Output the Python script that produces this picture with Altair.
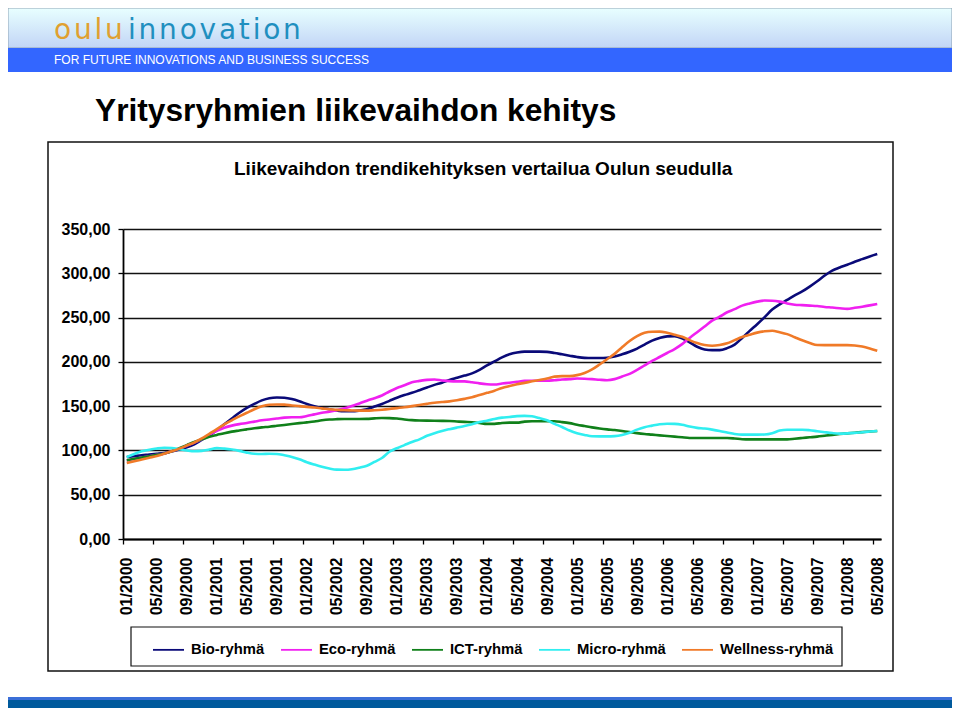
import altair as alt
import pandas as pd

# ---------------- data ----------------
series_names = ["Bio-ryhmä", "Eco-ryhmä", "ICT-ryhmä", "Micro-ryhmä", "Wellness-ryhmä"]
series_colors = ["#0a0a78", "#f020f0", "#10801a", "#30eef0", "#f07a28"]

tick_labels = ["01/2000", "05/2000", "09/2000", "01/2001", "05/2001", "09/2001",
               "01/2002", "05/2002", "09/2002", "01/2003", "05/2003", "09/2003",
               "01/2004", "05/2004", "09/2004", "01/2005", "05/2005", "09/2005",
               "01/2006", "05/2006", "09/2006", "01/2007", "05/2007", "09/2007",
               "01/2008", "05/2008"]

y_ticks = [0, 50, 100, 150, 200, 250, 300, 350]

bio = [92.5, 93.5, 94.5, 95.3, 96.2, 97.2, 99, 101, 103.5, 107, 112, 117, 123, 129.5, 136,
       142.5, 148, 152.5, 156.5, 159, 159.8, 159.5, 158, 155.5, 152.5, 150, 148, 146.5, 145,
       144.2, 144.2, 145, 146.5, 149.5, 152.5, 156, 159.5, 162.5, 165, 168, 171, 174, 176.5,
       179.5, 182, 184.5, 187, 191, 196, 200.5, 205, 208.5, 210.5, 211.5, 211.5, 211.5, 211.3,
       210, 208.5, 207, 205.5, 204.5, 204.3, 204.3, 204.6, 206, 208.5, 211.5, 215, 219.5, 224,
       227, 228.8, 229, 226.5, 222, 217, 214, 213.3, 213.3, 215.5, 219.5, 227, 235, 242.5,
       250.5, 259, 265, 270, 275, 279.5, 285, 291, 297.5, 303, 306.5, 309.6, 313, 316, 319,
       321.7]

eco = [88.7, 90.5, 92, 93.5, 95, 96.5, 99, 102, 105.5, 109, 112.5, 117.5, 122, 125.5, 128,
       129.7, 131, 132.5, 134, 135, 136, 137, 137.4, 137.4, 138.8, 140.7, 142.5, 143.8, 145.5,
       147.5, 150.2, 153, 156.2, 159, 162, 166.5, 170.5, 173.5, 177, 178.5, 179.7, 180, 179,
       178.2, 178, 178, 177, 175.7, 174.8, 174.5, 175.5, 176.5, 177.5, 178.5, 178.6, 178.6,
       178.7, 179.3, 180, 180.5, 181.2, 181, 180.5, 179.8, 179.3, 180.5, 183.5, 186.5, 191,
       196, 201, 205.5, 210, 214.5, 220, 227, 233.5, 240, 246.5, 251, 256, 259.5, 263.5, 266,
       268, 269.2, 269, 268, 266, 264.5, 264, 263.5, 263, 262, 261.3, 260.5, 259.8, 261,
       262.3, 263.8, 265.4]

ict = [89, 90.5, 92, 93.5, 95, 96.5, 99, 102.5, 106, 109.5, 112.5, 115.5, 117.5, 119.5,
       121.2, 122.5, 123.8, 125, 126, 126.8, 127.8, 128.8, 129.8, 130.8, 131.7, 132.7, 134,
       134.9, 135.3, 135.5, 135.5, 135.5, 135.6, 136.2, 136.6, 136.5, 136, 135, 134.2, 133.8,
       133.6, 133.5, 133.4, 133.2, 132.7, 132.2, 131.8, 131, 130, 130, 131, 131.4, 131.4,
       132.5, 132.9, 132.9, 132.9, 132.9, 132, 130.8, 129, 127.5, 126, 124.8, 123.8, 123, 122,
       120.8, 119.5, 118.5, 117.8, 117, 116.3, 115.6, 114.8, 114.1, 114, 114, 114, 114, 114,
       113.5, 112.7, 112.5, 112.5, 112.5, 112.5, 112.5, 112.5, 113.2, 114, 114.8, 115.6,
       116.6, 117.6, 118.5, 119.3, 120, 120.7, 121.3, 121.9]

micro = [92.4, 96, 99, 100.8, 102.2, 103, 102.8, 101.5, 100, 99, 99.5, 101, 102.6, 102, 101,
         99.5, 97.5, 96.2, 96, 96.2, 96, 94.5, 92.7, 90, 86.7, 84, 81.5, 79.5, 78.3, 78.2, 78.8,
         80.5, 82.7, 87, 91.5, 98.5, 102.5, 106, 109.5, 112.5, 116.5, 119.5, 122, 124, 125.8,
         127.5, 129.5, 132, 133.5, 135.5, 137, 137.8, 138.7, 139, 138.5, 136.5, 134, 130,
         126.5, 122.5, 119.5, 117.5, 116, 115.9, 115.9, 116.2, 117.5, 120, 123.5, 126.3, 128,
         129.5, 130.2, 130, 129, 127, 125.5, 124.8, 123.5, 122, 120.3, 118.6, 117.8, 117.8,
         117.8, 118, 119.4, 122.5, 123.4, 123.4, 123.4, 122.8, 121.7, 120.6, 119.6, 119, 119.2,
         119.8, 120.6, 121.3, 122]

wellness = [85.7, 87.8, 89.8, 91.8, 93.8, 96.3, 99, 102, 105.5, 109, 113.5, 118.8, 124, 129.5,
            134, 138.5, 142.5, 146.5, 149.8, 151.5, 151.8, 151.7, 150.8, 150, 149.2, 148.5,
            147.5, 146.4, 145.8, 145.4, 145.1, 144.9, 144.9, 145.4, 146, 146.8, 147.8, 148.8,
            150, 151.3, 152.6, 153.8, 154.6, 155.4, 156.6, 158.2, 160, 162.5, 165, 167.5, 170.5,
            172.7, 174.7, 176.3, 178, 179.6, 181.2, 183.3, 183.9, 183.9, 185, 187.5, 191.5, 197,
            203, 209, 216.5, 223.5, 229, 232.8, 234, 234.1, 232.8, 230.5, 228.3, 224.5, 221.2,
            219, 218.2, 219, 220.9, 224.5, 228, 230.5, 233, 234.5, 235.2, 233.5, 231.3, 227.8,
            224.3, 221.3, 219, 218.9, 218.9, 218.9, 218.9, 218.5, 217.3, 215.2, 212.6]

all_series = [bio, eco, ict, micro, wellness]

rows = []
for k, (name, vals) in enumerate(zip(series_names, all_series)):
    for i, v in enumerate(vals):
        rows.append({"i": i, "value": v, "series": name, "order": k})
df = pd.DataFrame(rows)

FONT = "Liberation Sans"
one = pd.DataFrame({"k": [0]})

label_array = "[" + ",".join("'" + t + "'" for t in tick_labels) + "]"
HS = "\u200a"  # hair space for the letter-spaced logo

# ---------------- decoration ----------------
header_grad = alt.Chart(one).mark_rect(
    fill=alt.Gradient(gradient="linear",
                      stops=[alt.GradientStop(color="#e8ffff", offset=0),
                             alt.GradientStop(color="#c2d5f6", offset=1)],
                      x1=0, x2=0, y1=0, y2=1),
    stroke="#8fa3b5", strokeWidth=1
).encode(x=alt.value(-115), x2=alt.value(829), y=alt.value(-221), y2=alt.value(-181))

header_band = alt.Chart(one).mark_rect(fill="#3366ff").encode(
    x=alt.value(-115), x2=alt.value(829), y=alt.value(-181), y2=alt.value(-157))

logo_a = alt.Chart(one).mark_text(
    text=HS.join("oulu"), font="DejaVu Sans", fontSize=28, color="#e0a030",
    align="left", baseline="alphabetic"
).encode(x=alt.value(-69), y=alt.value(-190))

logo_b = alt.Chart(one).mark_text(
    text=HS.join("innovation"), font="DejaVu Sans", fontSize=28,
    color="#1f8fbf", align="left", baseline="alphabetic"
).encode(x=alt.value(5), y=alt.value(-190))

tagline = alt.Chart(one).mark_text(
    text="FOR FUTURE INNOVATIONS AND BUSINESS SUCCESS", font=FONT, fontSize=12,
    color="white", align="left", baseline="middle"
).encode(x=alt.value(-69), y=alt.value(-169))

main_title = alt.Chart(one).mark_text(
    text="Yritysryhmien liikevaihdon kehitys", font=FONT, fontSize=31.7, fontWeight="bold",
    color="black", align="left", baseline="alphabetic"
).encode(x=alt.value(-28), y=alt.value(-108))

chart_box = alt.Chart(one).mark_rect(
    fillOpacity=0, stroke="#111111", strokeWidth=1.5
).encode(x=alt.value(-75), x2=alt.value(770), y=alt.value(-87), y2=alt.value(442))

subtitle = alt.Chart(one).mark_text(
    text="Liikevaihdon trendikehityksen vertailua Oulun seudulla", font=FONT, fontSize=19,
    fontWeight="bold", color="black", align="left", baseline="alphabetic"
).encode(x=alt.value(111), y=alt.value(-54))

legend_box = alt.Chart(one).mark_rect(
    fillOpacity=0, stroke="#111111", strokeWidth=1.2
).encode(x=alt.value(8), x2=alt.value(719), y=alt.value(398), y2=alt.value(437))

bar_light = alt.Chart(one).mark_rect(fill="#3b6fd8").encode(
    x=alt.value(-115), x2=alt.value(829), y=alt.value(468), y2=alt.value(471))
bar_dark = alt.Chart(one).mark_rect(fill="#005a9c").encode(
    x=alt.value(-115), x2=alt.value(829), y=alt.value(471), y2=alt.value(479))

# ---------------- lines ----------------
lines = alt.Chart(df).mark_line(strokeWidth=2.6, interpolate="monotone").encode(
    x=alt.X("i:Q",
            scale=alt.Scale(domain=[-0.5, 100.5], nice=False, zero=False),
            axis=alt.Axis(title=None, values=list(range(0, 101, 4)),
                          labelExpr=label_array + "[round(datum.value/4)]",
                          labelAngle=270, labelFont=FONT, labelFontSize=16,
                          labelFontWeight="bold", labelColor="black",
                          labelPadding=13, tickOffset=-3.75, labelOffset=3.75,
                          tickSize=5, tickColor="black", tickWidth=1.3,
                          domainColor="black", domainWidth=1.8, grid=False,
                          labelOverlap=False, labelBound=False, labelFlush=False)),
    y=alt.Y("value:Q",
            scale=alt.Scale(domain=[0, 350], nice=False),
            axis=alt.Axis(title=None, values=y_ticks,
                          labelExpr="replace(format(datum.value, '.2f'), '.', ',')",
                          labelFont=FONT, labelFontSize=16, labelFontWeight="bold",
                          labelColor="black", labelPadding=8, tickSize=5,
                          tickColor="black", tickWidth=1.3, domainColor="black",
                          domainWidth=1.8, grid=True, gridColor="#111111",
                          gridWidth=1.3)),
    color=alt.Color("series:N",
                    scale=alt.Scale(domain=series_names, range=series_colors),
                    legend=alt.Legend(title=None, orient="none", direction="horizontal",
                                      columns=5, legendX=29, legendY=404,
                                      symbolType="stroke", symbolSize=961,
                                      symbolStrokeWidth=1.8, labelFont=FONT,
                                      labelFontSize=14.8, labelFontWeight="bold",
                                      labelColor="black", labelOffset=6,
                                      columnPadding=12, padding=0)),
    detail="order:O",
    order="i:Q",
)

chart = alt.layer(
    header_grad, header_band, logo_a, logo_b, tagline, main_title, chart_box,
    subtitle, legend_box, bar_light, bar_dark, lines
).properties(
    width=758, height=310,
    autosize=alt.AutoSizeParams(type="none"),
    padding={"left": 115, "top": 221, "right": 71, "bottom": 169},
    background="white",
).configure_view(stroke=None)

chart.save("out.html", embed_options={"renderer": "svg", "actions": False})
